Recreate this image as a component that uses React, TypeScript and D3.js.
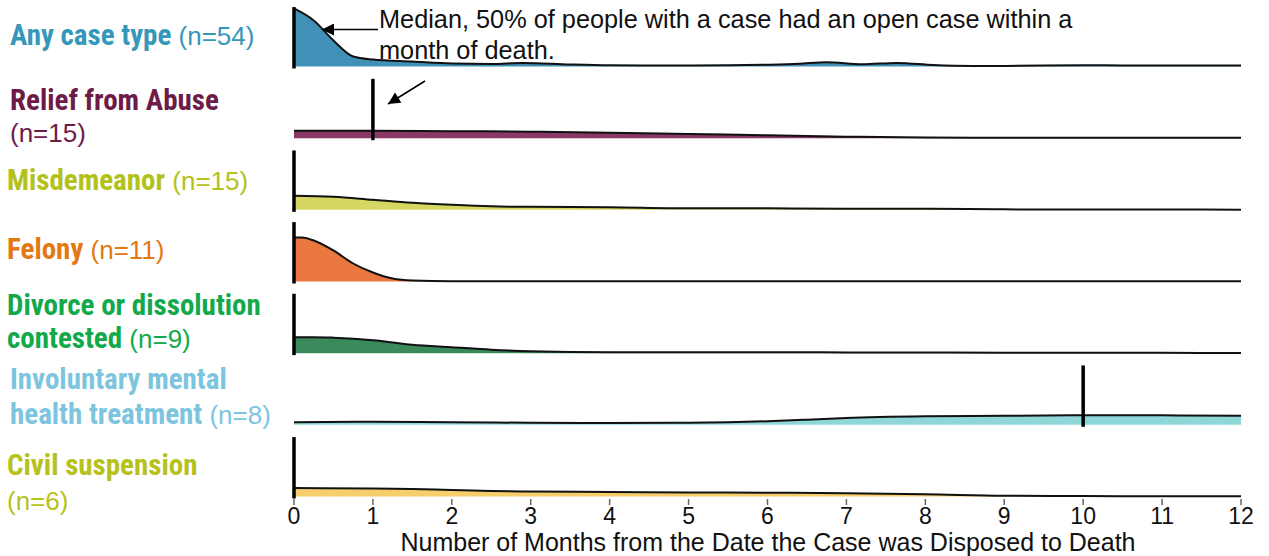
import React from "react";
import * as d3 from "d3";

const categories = [
  "Any case type",
  "Relief from Abuse",
  "Misdemeanor",
  "Felony",
  "Divorce or dissolution contested",
  "Involuntary mental health treatment",
  "Civil suspension",
];
const counts = [54, 15, 15, 11, 9, 8, 6];
const medians = [0, 1, 0, 0, 0, 10, 0];

const anyMonths = [0, 0.25, 0.5, 0.75, 1, 1.5, 2, 2.5, 2.9, 3.5, 4, 5, 5.5, 6, 6.4, 6.75, 7.2, 7.64, 8.1, 8.6, 9, 10, 10.5, 11, 12];
const anyDensity = [0.967, 0.767, 0.433, 0.167, 0.117, 0.083, 0.05, 0.042, 0.06, 0.033, 0.02, 0.017, 0.02, 0.03, 0.045, 0.07, 0.037, 0.06, 0.025, 0.01, 0.01, 0.022, 0.017, 0.017, 0.017];

const reliefMonths = [0, 1, 2, 3, 4, 5, 6, 7, 8, 9, 10, 11, 12];
const reliefDensity = [0.125, 0.125, 0.117, 0.108, 0.092, 0.07, 0.047, 0.025, 0.01, 0.005, 0.005, 0.005, 0.005];

const misdMonths = [0, 0.5, 1, 1.5, 2, 2.5, 3, 4, 5, 6, 7, 8, 9, 10, 11, 12];
const misdDensity = [0.233, 0.217, 0.167, 0.117, 0.083, 0.058, 0.05, 0.042, 0.025, 0.025, 0.02, 0.017, 0.008, 0.005, 0.005, 0.003];

const felonyMonths = [0, 0.1, 0.25, 0.5, 0.75, 1, 1.25, 1.5, 2, 4, 6, 8, 10, 12];
const felonyDensity = [0.733, 0.733, 0.683, 0.517, 0.3, 0.15, 0.05, 0.017, 0.005, 0.005, 0.005, 0.005, 0.005, 0.005];

const divorceMonths = [0, 0.25, 0.5, 1, 1.5, 2, 2.5, 3, 4, 5, 6, 7, 8, 9, 10, 11, 12];
const divorceDensity = [0.267, 0.267, 0.258, 0.217, 0.142, 0.1, 0.058, 0.033, 0.017, 0.017, 0.017, 0.013, 0.013, 0.008, 0.005, 0.005, 0.003];

const mentalMonths = [0, 1, 2, 3, 4, 5, 6, 6.5, 7, 8, 9, 10, 11, 12];
const mentalDensity = [0.042, 0.05, 0.042, 0.035, 0.03, 0.035, 0.06, 0.085, 0.115, 0.142, 0.15, 0.158, 0.158, 0.15];

const civilMonths = [0, 1, 1.5, 2, 2.5, 3, 4, 5, 6, 7, 8, 9, 10, 11, 12];
const civilDensity = [0.142, 0.133, 0.125, 0.108, 0.092, 0.083, 0.075, 0.067, 0.063, 0.053, 0.038, 0.013, 0.007, 0.005, 0.005];

const seriesMonths = [anyMonths, reliefMonths, misdMonths, felonyMonths, divorceMonths, mentalMonths, civilMonths];
const seriesDensity = [anyDensity, reliefDensity, misdDensity, felonyDensity, divorceDensity, mentalDensity, civilDensity];

const monthTicks = [0, 1, 2, 3, 4, 5, 6, 7, 8, 9, 10, 11, 12];

const axisTitle = "Number of Months from the Date the Case was Disposed to Death";
const noteLines = ["Median, 50% of people with a case had an open case within a", "month of death."];

// label line breaking (bold part / regular part)
const labelLines: { b?: string; r?: string }[][] = [
  [{ b: "Any case type", r: ` (n=${counts[0]})` }],
  [{ b: "Relief from Abuse" }, { r: `(n=${counts[1]})` }],
  [{ b: "Misdemeanor", r: ` (n=${counts[2]})` }],
  [{ b: "Felony", r: ` (n=${counts[3]})` }],
  [{ b: "Divorce or dissolution" }, { b: "contested", r: ` (n=${counts[4]})` }],
  [{ b: "Involuntary mental" }, { b: "health treatment", r: ` (n=${counts[5]})` }],
  [{ b: "Civil suspension" }, { r: `(n=${counts[6]})` }],
];

// styles
const labelColors = ["#3597b9", "#6d1b47", "#b3c11b", "#e47813", "#12a94b", "#7dc5de", "#b6c21b"];
const fillColors = ["#4190b8", "#8a3866", "#d6d762", "#e9773f", "#3b8a5c", "#8fd6d8", "#f6cf6c"];
const labelX = [10, 10, 7, 7, 7, 10, 7];
const labelDy = [[-21.5], [-28.5, 3.5], [-19.5], [-23], [-38, -5], [-35.5, -0.5], [-21.5, 13.5]];

const W = 1269;
const H = 556;
const BOLD_FONT = "'Liberation Sans Narrow', 'Arial Narrow', 'Roboto Condensed', 'DejaVu Sans Condensed', sans-serif";
const REG_FONT = "'Liberation Sans', Arial, sans-serif";

export default function App() {
  const x = d3.scaleLinear().domain([0, 12]).range([294, 1241]);
  const y = d3.scalePoint<string>().domain(categories).range([66.5, 496.5]);
  const h = d3.scaleLinear().domain([0, 1]).range([0, 60]);

  return (
    <svg
      width={W}
      height={H}
      viewBox={`0 0 ${W} ${H}`}
      style={{ position: "absolute", left: 0, top: 0, display: "block", background: "#fff" }}
    >
      {categories.map((cat, i) => {
        const base = y(cat)!;
        const pts: [number, number][] = seriesMonths[i].map((m, j) => [m, seriesDensity[i][j]]);
        const area = d3
          .area<[number, number]>()
          .x((d) => x(d[0]))
          .y0(base)
          .y1((d) => base - h(d[1]))
          .curve(d3.curveMonotoneX);
        const line = d3
          .line<[number, number]>()
          .x((d) => x(d[0]))
          .y((d) => base - h(d[1]))
          .curve(d3.curveMonotoneX);
        return (
          <g key={cat}>
            <path d={area(pts)!} fill={fillColors[i]} />
            <path d={line(pts)!} fill="none" stroke="#111" strokeWidth={2} />
            <line
              x1={x(medians[i])}
              x2={x(medians[i])}
              y1={base - h(0.99)}
              y2={base + 2}
              stroke="#000"
              strokeWidth={3.5}
            />
            <text fill={labelColors[i]}>
              {labelLines[i].map((ln, k) => (
                <tspan key={k} x={labelX[i]} y={base + labelDy[i][k]}>
                  {ln.b ? (
                    <tspan fontFamily={BOLD_FONT} fontWeight={700} fontSize={29}>
                      {ln.b}
                    </tspan>
                  ) : null}
                  {ln.r ? (
                    <tspan fontFamily={REG_FONT} fontWeight={400} fontSize={26} style={{ whiteSpace: "pre" }}>
                      {ln.r}
                    </tspan>
                  ) : null}
                </tspan>
              ))}
            </text>
          </g>
        );
      })}

      {/* x axis ticks */}
      <g>
        {monthTicks.map((t) => (
          <g key={t}>
            <line x1={x(t)} x2={x(t)} y1={499} y2={505} stroke="#666" strokeWidth={1.5} />
            <text
              x={x(t)}
              y={524}
              textAnchor="middle"
              fontFamily={REG_FONT}
              fontSize={23}
              fill="#111"
            >
              {t}
            </text>
          </g>
        ))}
        <text x={768} y={551} textAnchor="middle" fontFamily={REG_FONT} fontSize={25} fill="#111">
          {axisTitle}
        </text>
      </g>

      {/* annotation */}
      <defs>
        <marker id="ah2" viewBox="0 0 10 10" refX={10} refY={5} markerWidth={16} markerHeight={12} orient="auto" markerUnits="userSpaceOnUse">
          <path d="M0,0 L10,5 L0,10 z" fill="#000" />
        </marker>
      </defs>
      <line x1={378} y1={29.5} x2={322} y2={29.5} stroke="#000" strokeWidth={1.5} markerEnd="url(#ah2)" />
      <line x1={425} y1={81} x2={388} y2={104} stroke="#000" strokeWidth={1.5} markerEnd="url(#ah2)" />
      <text fontFamily={REG_FONT} fontSize={25.3} fill="#111">
        {noteLines.map((ln, k) => (
          <tspan key={k} x={379} y={28 + k * 31}>
            {ln}
          </tspan>
        ))}
      </text>
    </svg>
  );
}
